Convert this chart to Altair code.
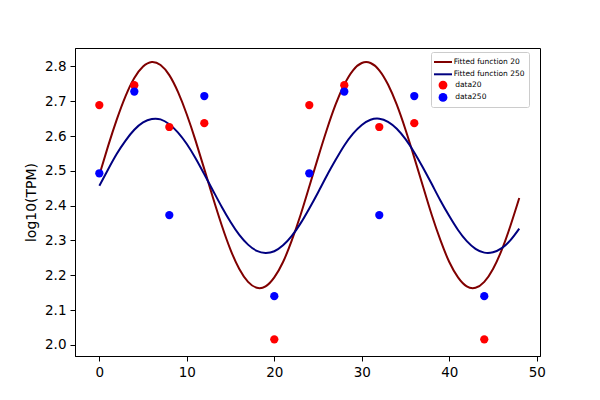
import altair as alt
import pandas as pd

# Fitted curves at x = 0..48
curve_x = list(range(49))
fit20 = [2.488, 2.571, 2.648, 2.715, 2.767, 2.800, 2.813, 2.804, 2.775, 2.726,
         2.662, 2.587, 2.505, 2.422, 2.343, 2.273, 2.218, 2.181, 2.164, 2.168,
         2.194, 2.238, 2.300, 2.373, 2.455, 2.538, 2.618, 2.690, 2.748, 2.789,
         2.810, 2.810, 2.789, 2.748, 2.690, 2.618, 2.538, 2.455, 2.373, 2.300,
         2.238, 2.194, 2.168, 2.164, 2.181, 2.218, 2.273, 2.343, 2.422]
fit250 = [2.457, 2.504, 2.549, 2.587, 2.618, 2.639, 2.649, 2.648, 2.634, 2.610,
          2.577, 2.536, 2.490, 2.443, 2.396, 2.353, 2.316, 2.288, 2.270, 2.264,
          2.269, 2.286, 2.313, 2.349, 2.392, 2.438, 2.486, 2.531, 2.573, 2.607,
          2.632, 2.647, 2.650, 2.641, 2.621, 2.591, 2.553, 2.509, 2.462, 2.414,
          2.370, 2.330, 2.298, 2.276, 2.265, 2.266, 2.278, 2.301, 2.334]

# Measured points
pt_x = [0, 4, 8, 12, 20, 24, 28, 32, 36, 44]
data20 = [2.689, 2.746, 2.626, 2.637, 2.016, 2.689, 2.746, 2.626, 2.637, 2.016]
data250 = [2.493, 2.728, 2.373, 2.715, 2.140, 2.493, 2.728, 2.373, 2.715, 2.140]

line_names = ["Fitted function 20", "Fitted function 250"]
line_colors = ["#800000", "#000080"]
point_names = ["data20", "data250"]
point_colors = ["#ff0000", "#0000ff"]
LINE_SYM = "M-1.8,0H1.8"

lines_df = pd.DataFrame({
    "x": curve_x + curve_x,
    "y": fit20 + fit250,
    "series": [line_names[0]] * len(curve_x) + [line_names[1]] * len(curve_x),
})
pts_df = pd.DataFrame({
    "x": pt_x + pt_x,
    "y": data20 + data250,
    "series": [point_names[0]] * len(pt_x) + [point_names[1]] * len(pt_x),
})

common = dict(orient="none", legendX=356, padding=4,
              labelFont="DejaVu Sans", labelFontSize=7.5, labelColor="black",
              symbolOpacity=1)

legend_lines = alt.Legend(
    title="\u00a0", titleOrient="bottom", titleFontSize=1, titlePadding=24,
    legendY=4, strokeColor="#cccccc", cornerRadius=2, rowPadding=2.3,
    symbolType=LINE_SYM, symbolSize=100, symbolStrokeWidth=2, symbolOffset=2,
    labelOffset=4.7,
    **common,
)
legend_points = alt.Legend(
    title=None, legendY=28.6, rowPadding=3.3,
    symbolType="circle", symbolSize=78, symbolStrokeWidth=0, symbolOffset=3.5,
    labelOffset=7.7,
    **common,
)

xenc = alt.X("x:Q", scale=alt.Scale(domain=[-2.78, 50.37], nice=False, zero=False),
             axis=alt.Axis(values=[0, 10, 20, 30, 40, 50], title=None))
yenc = alt.Y("y:Q", scale=alt.Scale(domain=[1.968, 2.853], nice=False, zero=False),
             axis=alt.Axis(values=[2.0, 2.1, 2.2, 2.3, 2.4, 2.5, 2.6, 2.7, 2.8],
                           format=".1f", title="log10(TPM)"))

lines = alt.Chart(lines_df).mark_line(strokeWidth=2, interpolate="natural").encode(
    x=xenc, y=yenc,
    stroke=alt.Stroke("series:N", scale=alt.Scale(domain=line_names, range=line_colors),
                      legend=legend_lines),
)
points = alt.Chart(pts_df).mark_circle(size=68, opacity=1).encode(
    x=xenc, y=yenc,
    fill=alt.Fill("series:N", scale=alt.Scale(domain=point_names, range=point_colors),
                  legend=legend_points),
)

chart = alt.layer(lines, points).properties(
    width=465, height=308,
    autosize="none",
    padding={"left": 67, "top": 40, "right": 45, "bottom": 40},
).configure_view(
    stroke="black", strokeWidth=1
).configure_axis(
    grid=False, domainColor="black", tickColor="black", tickSize=5,
    labelFont="DejaVu Sans", labelFontSize=13.5, labelColor="black", labelPadding=4,
    titleFont="DejaVu Sans", titleFontSize=14, titleFontWeight="normal",
    titleColor="black", titlePadding=6,
)

chart.save("out.html", embed_options={"renderer": "svg", "actions": False})
